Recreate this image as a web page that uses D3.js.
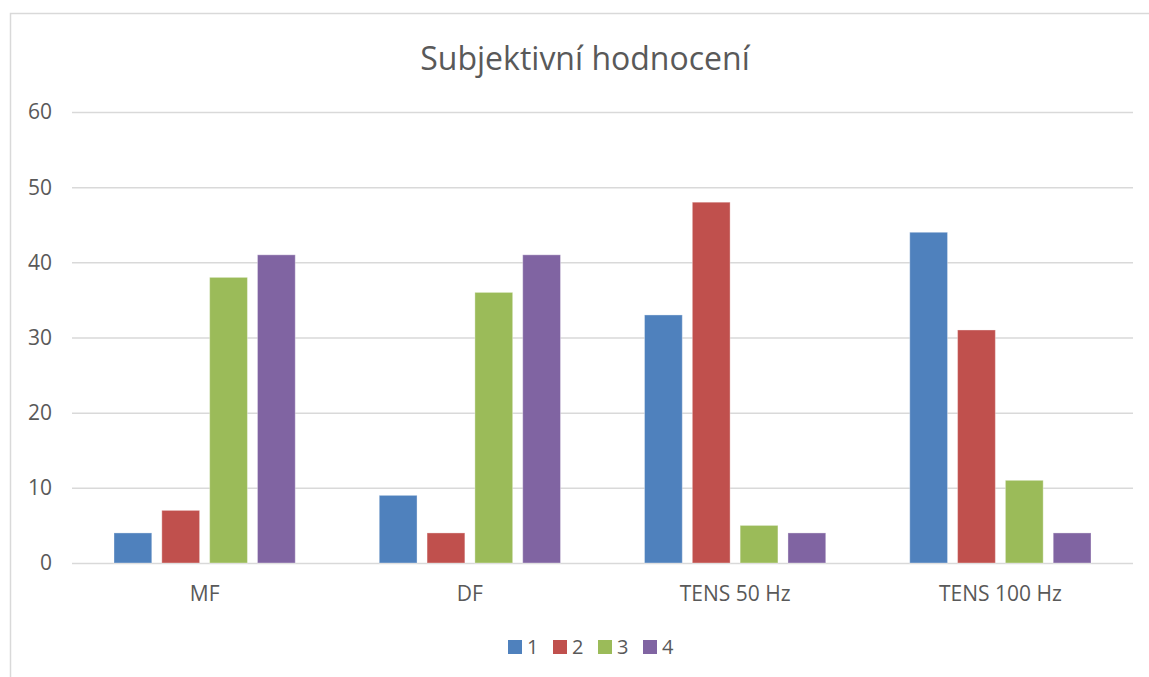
<!DOCTYPE html>
<html>
<head>
	<meta charset="utf-8">
	<script src="https://cdnjs.cloudflare.com/ajax/libs/d3/7.8.5/d3.min.js"></script>
	<style>
	body { margin: 0; background: #fff; }
	text { font-family: "Open Sans", "Noto Sans", sans-serif; fill: #595959; }
	.grid line { stroke: #d9d9d9; stroke-width: 1.5px; }
	.grid path { display: none; }
	</style>
</head>
<body>
	<svg width="1149" height="677"></svg>
	<script>
	// chart data
	const categories = ["MF", "DF", "TENS 50 Hz", "TENS 100 Hz"];
	const seriesNames = ["1", "2", "3", "4"];
	const series1 = [4, 9, 33, 44];
	const series2 = [7, 4, 48, 31];
	const series3 = [38, 36, 5, 11];
	const series4 = [41, 41, 4, 4];
	const yTicks = [0, 10, 20, 30, 40, 50, 60];
	const colors = ["#4f81bd", "#c0504d", "#9bbb59", "#8064a2"];

	const allSeries = [series1, series2, series3, series4];

	let svg = d3.select("svg"),
		margin = {top: 112, right: 16, bottom: 114, left: 72},
		width = +svg.attr("width") - margin.left - margin.right,
		height = +svg.attr("height") - margin.top - margin.bottom;

	// chart border
	svg.append("rect")
		.attr("x", 10.5).attr("y", 13.5)
		.attr("width", 1160).attr("height", 700)
		.attr("fill", "none")
		.attr("stroke", "#d9d9d9")
		.attr("stroke-width", 1.5);

	let g = svg.append("g").attr("transform", "translate(" + margin.left + "," + margin.top + ")");

	// scales
	let x0 = d3.scaleBand().domain(categories).range([0, width]).paddingInner(0).paddingOuter(0);
	let x1 = d3.scaleBand().domain(seriesNames).range([42, x0.bandwidth() - 42]).paddingInner(0.21);
	let y = d3.scaleLinear().domain([0, 60]).range([height, 0]);

	// gridlines
	g.append("g")
		.attr("class", "grid")
		.call(d3.axisLeft(y).tickValues(yTicks).tickSize(-width).tickFormat(""));

	// y tick labels
	g.selectAll(".ylab")
		.data(yTicks)
		.enter().append("text")
		.attr("class", "ylab")
		.attr("x", -20)
		.attr("y", d => y(d))
		.attr("dy", "0.35em")
		.attr("text-anchor", "end")
		.style("font-size", "21px")
		.text(d => d);

	// bars
	let groups = g.selectAll(".cat")
		.data(categories)
		.enter().append("g")
		.attr("class", "cat")
		.attr("transform", d => "translate(" + x0(d) + ",0)");

	groups.selectAll("rect")
		.data((c, i) => seriesNames.map((s, j) => ({s: s, v: allSeries[j][i], c: colors[j]})))
		.enter().append("rect")
		.attr("x", d => x1(d.s))
		.attr("y", d => y(d.v))
		.attr("width", x1.bandwidth())
		.attr("height", d => y(0) - y(d.v))
		.attr("fill", d => d.c)
		.attr("stroke", "#fff")
		.attr("stroke-opacity", 0.35)
		.attr("stroke-width", 1);

	// x labels
	g.selectAll(".xlab")
		.data(categories)
		.enter().append("text")
		.attr("class", "xlab")
		.attr("x", d => x0(d) + x0.bandwidth() / 2)
		.attr("y", height + 38)
		.attr("text-anchor", "middle")
		.style("font-size", "21px")
		.text(d => d);

	// title
	svg.append("text")
		.attr("x", 585)
		.attr("y", 70)
		.attr("text-anchor", "middle")
		.style("font-size", "32px")
		.text("Subjektivní hodnocení");

	// legend
	let legend = svg.append("g").attr("transform", "translate(508,640)");
	let item = legend.selectAll(".item")
		.data(seriesNames)
		.enter().append("g")
		.attr("class", "item")
		.attr("transform", (d, i) => "translate(" + (i * 45) + ",0)");
	item.append("rect")
		.attr("width", 14).attr("height", 14)
		.attr("fill", (d, i) => colors[i]);
	item.append("text")
		.attr("x", 19)
		.attr("y", 7)
		.attr("dy", "0.35em")
		.style("font-size", "20px")
		.text(d => d);
	</script>
</body>
</html>
